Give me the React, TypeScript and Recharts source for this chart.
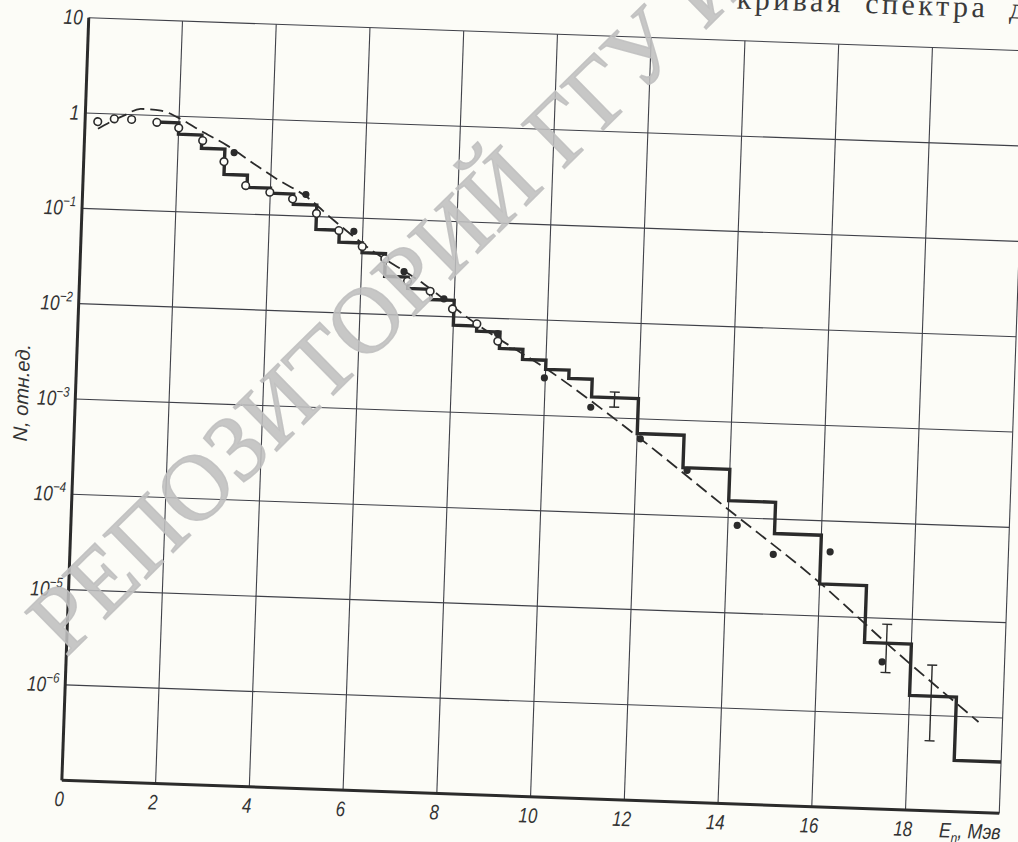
import React from 'react';
import { ComposedChart, Line, Scatter, XAxis, YAxis, CartesianGrid, ErrorBar } from 'recharts';

// histogram (bin left edges, MeV) and its heights
const histEdges = [1.5, 2, 2.5, 3, 3.5, 4, 4.5, 5, 5.5, 6, 6.5, 7, 7.5, 8, 8.5, 9, 9.5, 10, 10.5, 11, 12, 13, 14, 15, 16, 17, 18, 19, 20];
const histValues = [0.855, 0.649, 0.471, 0.256, 0.191, 0.169, 0.132, 0.0734, 0.0551, 0.0435, 0.0251, 0.0191, 0.0149, 0.00818, 0.00722, 0.00485, 0.0038, 0.00305, 0.0025, 0.00163, 0.0007, 0.00032, 0.00015, 7.05e-5, 2.17e-5, 5.5e-6, 1.59e-6, 3.45e-7, 3.45e-7];

// dashed calculated curve
const fitE = [0.28, 0.55, 0.82, 1.18, 1.61, 1.97, 2.47, 3.05, 3.71, 4.07, 4.79, 5.38, 6.11, 7.34, 8.29, 10.33, 11.93, 13.97, 15.98, 17.48, 19.49];
const fitN = [0.69, 0.83, 0.97, 1.16, 1.13, 0.975, 0.72, 0.514, 0.32, 0.249, 0.158, 0.0923, 0.0499, 0.0216, 0.01, 2.46e-3, 6.96e-4, 1.24e-4, 2.28e-5, 5.45e-6, 8.9e-7];

// open circles
const openE = [0.27, 0.62, 0.99, 1.53, 2.0, 2.52, 2.99, 3.47, 3.99, 4.48, 5.0, 5.49, 6.0, 6.49, 6.99, 7.48, 7.97, 8.5, 8.96];
const openN = [0.82, 0.89, 0.89, 0.85, 0.755, 0.568, 0.348, 0.199, 0.173, 0.15, 0.108, 0.0728, 0.0505, 0.0383, 0.0227, 0.0182, 0.0121, 0.00863, 0.00577];

// filled dots
const dotE = [3.2, 4.76, 5.81, 6.91, 7.78, 8.95, 9.98, 10.99, 12.07, 13.09, 14.2, 14.99, 16.2, 17.39];
const dotN = [0.436, 0.169, 0.0724, 0.0286, 0.0153, 0.00695, 0.00248, 0.00127, 6.19e-4, 3.01e-4, 8.32e-5, 4.26e-5, 4.74e-5, 3.49e-6];

// error bars
const errE = [11.49, 17.47, 18.46];
const errLow = [1.3e-3, 2.71e-6, 5.42e-7];
const errHigh = [1.87e-3, 8.69e-6, 3.37e-6];

const xTicks = [0, 2, 4, 6, 8, 10, 12, 14, 16, 18, 20];
const yTicks = [1e-7, 1e-6, 1e-5, 1e-4, 1e-3, 1e-2, 1e-1, 1, 10];
const yExp = [-7, -6, -5, -4, -3, -2, -1, 0, 1];

const histData = histEdges.map((x, i) => ({ x, y: histValues[i] }));
const fitData = fitE.map((x, i) => ({ x, y: fitN[i] }));
const openData = openE.map((x, i) => ({ x, y: openN[i] }));
const dotData = dotE.map((x, i) => ({ x, y: dotN[i] }));
const errData = errE.map((x, i) => ({ x, y: errLow[i], err: [0, errHigh[i] - errLow[i]] }));

const INK = '#2b2b2b';
const GRID = '#3f4048';
const FONT = "'Liberation Sans', Arial, sans-serif";

const W = 1038;
const H = 843;
const ML = 80;
const MT = 20;
const PW = 938;
const PH = 763;

const XTick = (props: any) => {
  const { x, y, payload } = props;
  const v = payload.value;
  if (v === 20) {
    return (
      <g transform={`translate(${x + 2},${y + 26}) scale(0.85 1)`}>
        <text textAnchor="end" fontFamily={FONT} fontStyle="italic" fontSize={21} fill="#333">
          E<tspan dy={5} fontSize={14}>n</tspan>
          <tspan dy={-5}>, Мэв</tspan>
        </text>
      </g>
    );
  }
  return (
    <g transform={`translate(${x - 2},${y + 26}) scale(0.8 1)`}>
      <text textAnchor="middle" fontFamily={FONT} fontStyle="italic" fontSize={21} fill="#333">
        {v}
      </text>
    </g>
  );
};

const YTick = (props: any) => {
  const { x, y, payload } = props;
  const e = yExp[yTicks.indexOf(payload.value)];
  if (e === -7 || e === undefined) return <g />;
  return (
    <g transform={`translate(${x - 6},${y + 7}) scale(0.82 1)`}>
      <text textAnchor="end" fontFamily={FONT} fontStyle="italic" fontSize={21} fill="#333">
        {e === 0 ? '1' : '10'}
        {e < 0 && (
          <tspan dy={-9} fontSize={14}>
            −{-e}
          </tspan>
        )}
      </text>
    </g>
  );
};

const OpenDot = (p: any) => <circle cx={p.cx} cy={p.cy} r={3.8} fill="#fdfdf9" stroke={INK} strokeWidth={1.6} />;
const FullDot = (p: any) => <circle cx={p.cx} cy={p.cy} r={3.6} fill={INK} />;

export default function App() {
  return (
    <div style={{ position: 'absolute', left: 0, top: 0, width: 1018, height: 842, overflow: 'hidden', background: '#fcfcf7' }}>
      <div
        style={{
          position: 'absolute',
          left: -5.5,
          top: 13.5,
          width: W,
          height: H,
          transform: 'rotate(2.02deg)',
          transformOrigin: `${ML + PW / 2}px ${MT + PH / 2}px`,
        }}
      >
        <ComposedChart width={W} height={H} margin={{ top: MT, right: W - ML - PW, left: 0, bottom: 0 }}>
          <CartesianGrid stroke={GRID} strokeWidth={1.1} />
          <XAxis
            type="number"
            dataKey="x"
            domain={[0, 20]}
            ticks={xTicks}
            interval={0}
            height={H - MT - PH}
            axisLine={{ stroke: INK, strokeWidth: 3 }}
            tickLine={false}
            tickSize={0}
            tickMargin={0}
            tick={<XTick />}
            allowDataOverflow
          />
          <YAxis
            type="number"
            dataKey="y"
            scale="log"
            domain={[1e-7, 10]}
            ticks={yTicks}
            interval={0}
            width={ML}
            axisLine={{ stroke: INK, strokeWidth: 3 }}
            tickLine={false}
            tickSize={0}
            tickMargin={0}
            tick={<YTick />}
            allowDataOverflow
          />
          <Line data={histData} dataKey="y" type="stepAfter" stroke={INK} strokeWidth={3.4} dot={false} activeDot={false} isAnimationActive={false} />
          <Line data={fitData} dataKey="y" type="monotone" stroke={INK} strokeWidth={1.8} strokeDasharray="13 6" dot={false} activeDot={false} isAnimationActive={false} />
          <Scatter data={errData} dataKey="y" shape={() => <g />} isAnimationActive={false}>
            <ErrorBar dataKey="err" direction="y" width={5} stroke={INK} strokeWidth={1.4} isAnimationActive={false} />
          </Scatter>
          <Scatter data={openData} dataKey="y" shape={OpenDot} isAnimationActive={false} />
          <Scatter data={dotData} dataKey="y" shape={FullDot} isAnimationActive={false} />
        </ComposedChart>
        <svg width={W} height={H} style={{ position: 'absolute', left: 0, top: 0, overflow: 'visible', pointerEvents: 'none' }}>
          <text
            x={26}
            y={397}
            transform="rotate(-90 26 397)"
            textAnchor="middle"
            dominantBaseline="central"
            fontFamily={FONT}
            fontStyle="italic"
            fontSize={20}
            fill="#333"
          >
            N, отн.ед.
          </text>
          <text x={727} y={-12} fontFamily="'Liberation Serif', serif" fontSize={30} letterSpacing={3.5} wordSpacing={10} fill="#3a3a3a">
            кривая спектра де
          </text>
        </svg>
      </div>
      <svg width={1018} height={842} style={{ position: 'absolute', left: 0, top: 0, pointerEvents: 'none' }}>
        <text
          x={66}
          y={658}
          transform="rotate(-44.5 66 658)"
          fontFamily="'Liberation Serif', serif"
          fontSize={94}
          fill="#bfbfbf"
          fillOpacity={0.88}
          stroke="#bfbfbf"
          strokeOpacity={0.88}
          strokeWidth={1.5}
        >
          РЕПОЗИТОРИЙ ГГУ И
        </text>
      </svg>
    </div>
  );
}
